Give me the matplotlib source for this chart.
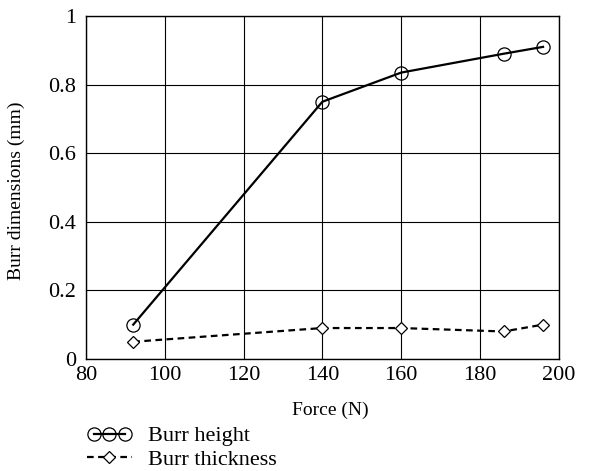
import matplotlib
matplotlib.use("Agg")
import matplotlib.pyplot as plt
from matplotlib.legend_handler import HandlerLine2D

# -----------------------------
# Data
# -----------------------------

force = [92, 140, 160, 186, 196]
burr_height = [0.10, 0.75, 0.835, 0.89, 0.91]
burr_thickness = [0.05, 0.09, 0.09, 0.08, 0.10]

x_ticks = [80, 100, 120, 140, 160, 180, 200]
y_ticks = [0, 0.2, 0.4, 0.6, 0.8, 1]
y_tick_labels = ["0", "0.2", "0.4", "0.6", "0.8", "1"]

plt.rcParams["font.family"] = ["Liberation Serif", "DejaVu Serif"]

# -----------------------------
# Plot
# -----------------------------

fig = plt.figure(figsize=(5.97, 4.71), dpi=100)
ax = fig.add_axes([0.144, 0.238, 0.792, 0.728])

h_line, = ax.plot(
    force, burr_height,
    color="black", linewidth=1.6,
    marker="o", markersize=9.5, markerfacecolor="none",
    markeredgecolor="black", markeredgewidth=0.9,
    label="Burr height", zorder=3
)
t_line, = ax.plot(
    force, burr_thickness,
    color="black", linewidth=1.6, linestyle=(0, (3, 2)),
    marker="D", markersize=6.5, markerfacecolor="white",
    markeredgecolor="black", markeredgewidth=0.9,
    label="Burr thickness", zorder=3
)

ax.set_xlim(80, 200)
ax.set_ylim(0, 1)
ax.set_xticks(x_ticks)
ax.set_yticks(y_ticks)
ax.set_yticklabels(y_tick_labels)
ax.tick_params(length=0, labelsize=16)
ax.tick_params(axis="x", pad=5)
ax.tick_params(axis="y", pad=7)
ax.grid(True, color="black", linewidth=0.8)
for s in ax.spines.values():
    s.set_linewidth(1.0)

ax.set_xlabel("Force (N)", fontsize=14)
ax.set_ylabel("Burr dimensions (mm)", fontsize=14)
ax.xaxis.set_label_coords(0.517, -0.125)
ax.yaxis.set_label_coords(-0.128, 0.49)

fig.legend(
    handles=[h_line, t_line],
    loc="upper left",
    bbox_to_anchor=(0.146, 0.096),
    frameon=False,
    fontsize=16,
    numpoints=3,
    handlelength=2.0,
    handletextpad=0.75,
    labelspacing=0.15,
    borderaxespad=0,
    borderpad=0,
    handler_map={t_line: HandlerLine2D(numpoints=1)},
)

fig.savefig("out.png", dpi=100)
